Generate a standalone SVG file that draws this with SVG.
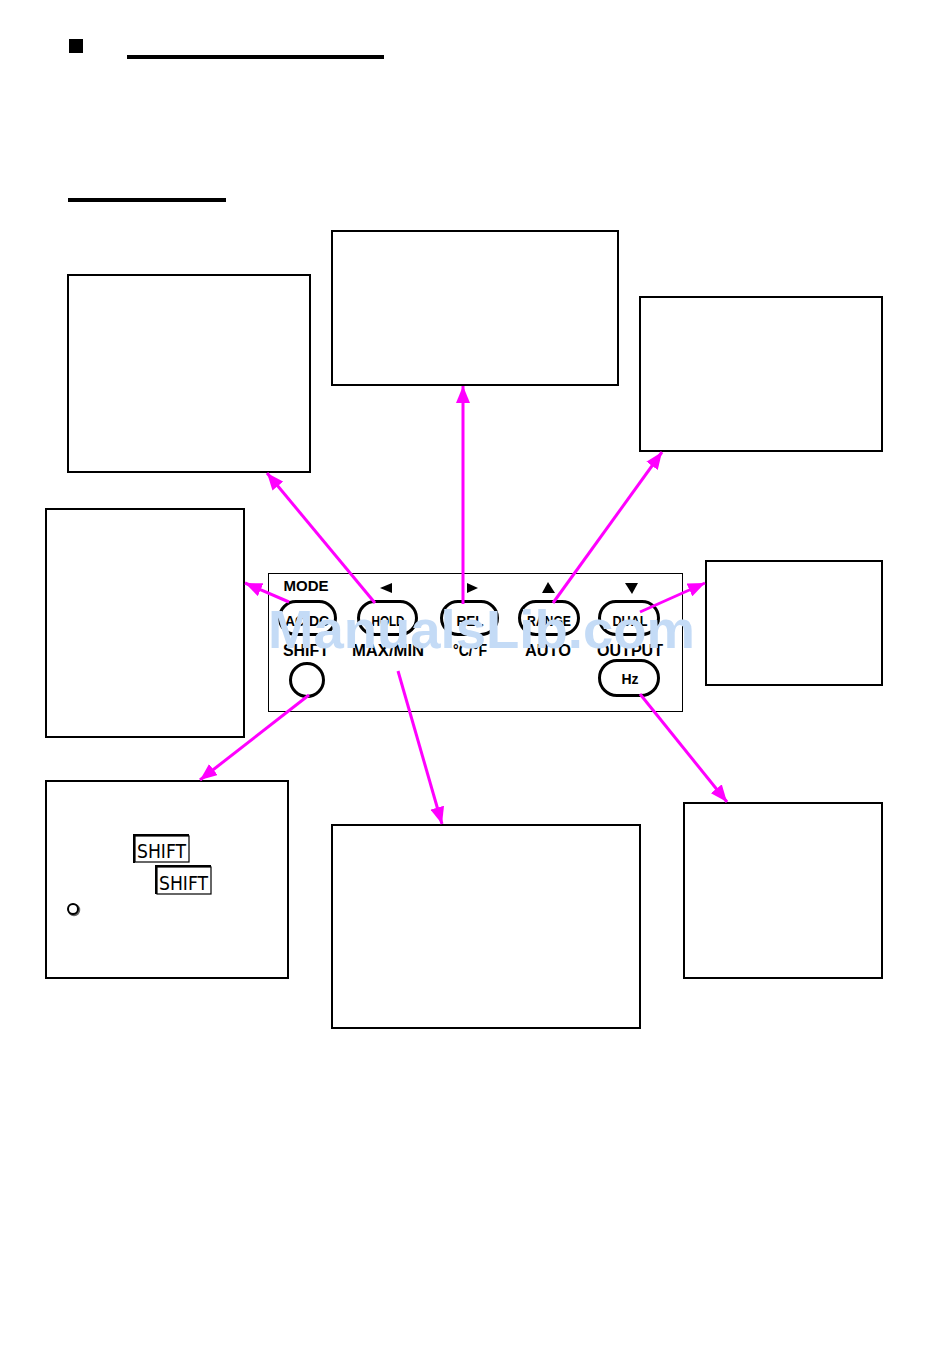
<svg xmlns="http://www.w3.org/2000/svg" width="950" height="1367" viewBox="0 0 950 1367">
<style>
.box{fill:#fff;stroke:#000;stroke-width:2}
.btn{fill:none;stroke:#000;stroke-width:3}
.lbl{font-family:"Liberation Sans",Arial,sans-serif;font-weight:bold;fill:#000;text-anchor:middle}
.btxt{font-family:"Liberation Sans",Arial,sans-serif;font-weight:bold;font-size:14px;fill:#000;text-anchor:middle}
.arr{stroke:#ff00ff;stroke-width:3;fill:none;marker-end:url(#ah)}
.lcd{font-family:"DejaVu Sans Condensed","DejaVu Sans",sans-serif;font-size:20px;fill:#000}
</style>
<defs>
<marker id="ah" markerUnits="userSpaceOnUse" markerWidth="17" markerHeight="14" refX="17" refY="7" orient="auto">
<path d="M0,0 L17,7 L0,14 z" fill="#ff00ff"/>
</marker>
</defs>
<rect width="950" height="1367" fill="#fff"/>
<g id="header">
<rect x="69" y="39" width="14" height="14" fill="#000"/>
<rect x="127" y="55" width="257" height="4" fill="#000"/>
<rect x="68" y="198" width="158" height="4" fill="#000"/>
</g>
<g id="box-a"><rect class="box" x="68" y="275" width="242" height="197"/></g>
<g id="box-b"><rect class="box" x="332" y="231" width="286" height="154"/></g>
<g id="box-c"><rect class="box" x="640" y="297" width="242" height="154"/></g>
<g id="box-d"><rect class="box" x="46" y="509" width="198" height="228"/></g>
<g id="box-e"><rect class="box" x="706" y="561" width="176" height="124"/></g>
<g id="box-f">
<rect class="box" x="46" y="781" width="242" height="197"/>
<rect x="135" y="836" width="54" height="26" fill="#fff" stroke="#000" stroke-width="1.2"/>
<path d="M134,863 L134,835 L189,835" fill="none" stroke="#000" stroke-width="2"/>
<text class="lcd" x="137" y="858" textLength="49" lengthAdjust="spacingAndGlyphs">SHIFT</text>
<rect x="157" y="867" width="54" height="27" fill="#fff" stroke="#000" stroke-width="1.2"/>
<path d="M156,894 L156,866 L211,866" fill="none" stroke="#000" stroke-width="2"/>
<text class="lcd" x="159" y="890" textLength="49" lengthAdjust="spacingAndGlyphs">SHIFT</text>
<circle cx="74" cy="910" r="5" fill="none" stroke="#666" stroke-width="2.5"/>
<circle cx="73" cy="909" r="5" fill="#fff" stroke="#000" stroke-width="2"/>
</g>
<g id="box-g"><rect class="box" x="332" y="825" width="308" height="203"/></g>
<g id="box-h"><rect class="box" x="684" y="803" width="198" height="175"/></g>
<g id="panel">
<rect x="268.5" y="573.5" width="414" height="138" fill="#fff" stroke="#000" stroke-width="1"/>
<text class="lbl" x="306" y="591" font-size="15">MODE</text>
<path d="M380,588 L392,583 L392,593 z" fill="#000"/>
<path d="M478,588 L467,583 L467,593 z" fill="#000"/>
<path d="M548,582 L555,593 L542,593 z" fill="#000"/>
<path d="M632,594 L625,583 L638,583 z" fill="#000"/>
<rect class="btn" x="279.5" y="601.5" width="56" height="33" rx="16.5"/>
<rect class="btn" x="358.5" y="601.5" width="58" height="33" rx="16.5"/>
<rect class="btn" x="441.5" y="601.5" width="56" height="33" rx="16.5"/>
<rect class="btn" x="519.5" y="601.5" width="59" height="33" rx="16.5"/>
<rect class="btn" x="599.5" y="601.5" width="59" height="33" rx="16.5"/>
<text class="btxt" x="307" y="626" textLength="44" lengthAdjust="spacingAndGlyphs">AC/DC</text>
<text class="btxt" x="388" y="626" textLength="33" lengthAdjust="spacingAndGlyphs">HOLD</text>
<text class="btxt" x="470" y="626" textLength="27" lengthAdjust="spacingAndGlyphs">REL</text>
<text class="btxt" x="549" y="626" textLength="44" lengthAdjust="spacingAndGlyphs">RANGE</text>
<text class="btxt" x="630" y="626" textLength="35" lengthAdjust="spacingAndGlyphs">DUAL</text>
<text class="lbl" x="306" y="656" font-size="16" textLength="46" lengthAdjust="spacingAndGlyphs">SHIFT</text>
<text class="lbl" x="388" y="656" font-size="16" textLength="72" lengthAdjust="spacingAndGlyphs">MAX/MIN</text>
<text class="lbl" x="470" y="656" font-size="16" textLength="34" lengthAdjust="spacingAndGlyphs">°C/°F</text>
<text class="lbl" x="548" y="656" font-size="16" textLength="46" lengthAdjust="spacingAndGlyphs">AUTO</text>
<text class="lbl" x="630" y="656" font-size="16" textLength="66" lengthAdjust="spacingAndGlyphs">OUTPUT</text>
<circle class="btn" cx="307" cy="680" r="16.5"/>
<rect class="btn" x="599.5" y="660.5" width="59" height="35" rx="17.5"/>
<text class="btxt" x="630" y="684" font-size="15">Hz</text>
</g>
<g id="connectors">
<line class="arr" x1="289" y1="602" x2="245" y2="583"/>
<line class="arr" x1="375" y1="603" x2="267" y2="473"/>
<line class="arr" x1="463" y1="604" x2="463" y2="386"/>
<line class="arr" x1="553" y1="603" x2="662" y2="452"/>
<line class="arr" x1="640" y1="612" x2="705" y2="583"/>
<line class="arr" x1="309" y1="695" x2="200" y2="780"/>
<line class="arr" x1="398" y1="671" x2="442" y2="824"/>
<line class="arr" x1="640" y1="694" x2="727" y2="802"/>
</g>
<g id="watermark">
<text x="268" y="648" font-family="'Liberation Sans',Arial,sans-serif" font-weight="bold" font-size="53" fill="#c4dbf6" textLength="427" lengthAdjust="spacingAndGlyphs">ManualsLib.com</text>
</g>
</svg>
